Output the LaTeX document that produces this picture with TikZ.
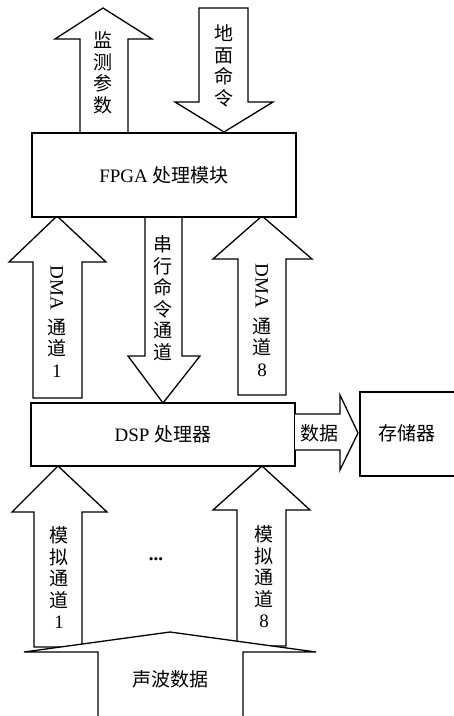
\documentclass[tikz,border=0pt]{standalone}
\usepackage{fontspec}
\setmainfont{Liberation Serif}
\newfontfamily\cjk{Noto Sans CJK SC}
\begin{document}
\begin{tikzpicture}[x=1pt,y=-1pt,line width=1.3pt,line join=miter,
  shp/.style={draw=black,fill=white},
  boxnode/.style={draw=black,fill=white,line width=1.3pt,inner sep=0pt,font=\fontsize{19}{21}\selectfont},
  lbl/.style={font=\fontsize{19}{21}\selectfont,align=center,inner sep=0pt},
  vlbl/.style={font=\fontsize{19}{21.5}\selectfont,align=center,inner sep=0pt}]
\useasboundingbox (0,0) rectangle (454,716);
% top arrows
\draw[shp] (80,133) -- (80,39) -- (55,39) -- (103,8) -- (152,39) -- (128,39) -- (128,133) -- cycle;
\draw[shp] (199,8) -- (199,102) -- (175,102) -- (224,132) -- (273,102) -- (248,102) -- (248,8) -- cycle;
% middle arrows
\draw[shp] (33,398) -- (33,262) -- (9,262) -- (57,216) -- (106,262) -- (82,262) -- (82,398) -- cycle;
\draw[shp] (145,216) -- (145,356) -- (128,356) -- (163,403) -- (200,356) -- (182,356) -- (182,216) -- cycle;
\draw[shp] (238,395) -- (238,259) -- (213,259) -- (262,216) -- (312,259) -- (286,259) -- (286,395) -- cycle;
% FPGA box
\node[boxnode,minimum width=264pt,minimum height=84pt] (fpga) at (164,175) {FPGA {\cjk 处理模块}};
% DSP box
\node[boxnode,minimum width=264pt,minimum height=63pt] (dsp) at (163,434.5) {DSP {\cjk 处理器}};
% data arrow to storage
\draw[shp] (295,414) -- (340,414) -- (340,395) -- (358,433) -- (340,470) -- (340,450) -- (295,450);
\node[boxnode,minimum width=110pt,minimum height=84pt] (mem) at (415,434) {};
\node[lbl] (memlbl) at (407,433) {\cjk 存储器};
\node[lbl] (datalbl) at (319,433) {\cjk 数据};
% bottom small arrows
\draw[shp] (34,647) -- (34,512) -- (12,512) -- (58,466) -- (107,512) -- (82,512) -- (82,647) -- cycle;
\draw[shp] (237,646) -- (237,510) -- (213,510) -- (262,466) -- (310,510) -- (286,510) -- (286,646) -- cycle;
% big bottom arrow
\draw[shp] (98,716) -- (98,652) -- (24,652) -- (170,632) -- (316,652) -- (243,652) -- (243,716);
% labels
\node[vlbl] (l1) at (103,73) {\cjk 监\\\cjk 测\\\cjk 参\\\cjk 数};
\node[vlbl] (l2) at (224,66) {\cjk 地\\\cjk 面\\\cjk 命\\\cjk 令};
\node[vlbl] (l3) at (163,298) {\cjk 串\\\cjk 行\\\cjk 命\\\cjk 令\\\cjk 通\\\cjk 道};
\node[lbl] (d1a) at (57,288) {\rotatebox{-90}{DMA}};
\node[vlbl] (d1b) at (57,348) {\cjk 通\\\cjk 道\\1};
\node[lbl] (d8a) at (262,286) {\rotatebox{-90}{DMA}};
\node[vlbl] (d8b) at (262,347) {\cjk 通\\\cjk 道\\8};
\node[vlbl] (m1) at (59,578) {\cjk 模\\\cjk 拟\\\cjk 通\\\cjk 道\\1};
\node[vlbl] (m8) at (264,577) {\cjk 模\\\cjk 拟\\\cjk 通\\\cjk 道\\8};
\node[lbl] (dots) at (156,559) {\textbf{...}};
\node[lbl] (wave) at (170,679) {\cjk 声波数据};
\end{tikzpicture}
\end{document}
